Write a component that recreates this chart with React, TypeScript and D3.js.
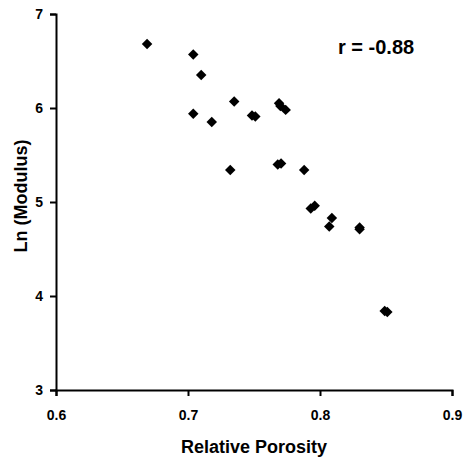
import React, { useEffect, useRef } from "react";
import * as d3 from "d3";

const porosity = [0.669, 0.704, 0.71, 0.704, 0.718, 0.735, 0.7485, 0.751, 0.769, 0.77, 0.774, 0.732, 0.768, 0.7705, 0.788, 0.793, 0.796, 0.809, 0.807, 0.83, 0.83, 0.849, 0.851];
const lnModulus = [6.68, 6.57, 6.35, 5.94, 5.85, 6.07, 5.92, 5.91, 6.05, 6.02, 5.98, 5.34, 5.4, 5.41, 5.34, 4.93, 4.96, 4.83, 4.74, 4.73, 4.71, 3.84, 3.83];
const xTicks = [0.6, 0.7, 0.8, 0.9];
const yTicks = [3, 4, 5, 6, 7];
const xTitle = "Relative Porosity";
const yTitle = "Ln (Modulus)";
const note = "r = -0.88";

const W = 463, H = 459;
const FONT = "'Liberation Sans', Arial, sans-serif";

export default function App() {
  const ref = useRef<SVGSVGElement>(null);
  useEffect(() => {
    const svg = d3.select(ref.current);
    svg.selectAll("*").remove();
    const x = d3.scaleLinear().domain([0.6, 0.9]).range([56, 452]);
    const y = d3.scaleLinear().domain([3, 7]).range([390, 14]);

    const gx = svg.append("g").attr("transform", `translate(0,${y(3)})`)
      .call(d3.axisBottom(x).tickValues(xTicks).tickFormat(d3.format(".1f")).tickSizeOuter(0).tickSize(6).tickPadding(14));
    const gy = svg.append("g").attr("transform", `translate(${x(0.6)},0)`)
      .call(d3.axisLeft(y).tickValues(yTicks).tickFormat(d3.format("d")).tickSizeOuter(0).tickSize(6).tickPadding(7));
    [gx, gy].forEach((g) => {
      g.select(".domain").attr("stroke", "#000").attr("stroke-width", 2);
      g.selectAll(".tick line").attr("stroke", "#000").attr("stroke-width", 2);
      g.selectAll(".tick text").attr("fill", "#000").attr("font-family", FONT).attr("font-weight", "bold").attr("font-size", 14);
    });

    const sym = d3.symbol().type(d3.symbolDiamond2).size(70);
    svg.append("g").selectAll("path").data(porosity).join("path")
      .attr("d", sym as any)
      .attr("transform", (d, i) => `translate(${x(d)},${y(lnModulus[i])})`)
      .attr("fill", "#000");

    svg.append("text").attr("x", 254).attr("y", 453).attr("text-anchor", "middle")
      .attr("font-family", FONT).attr("font-weight", "bold").attr("font-size", 18).text(xTitle);
    svg.append("text").attr("transform", `translate(27,196) rotate(-90)`).attr("text-anchor", "middle")
      .attr("font-family", FONT).attr("font-weight", "bold").attr("font-size", 18).text(yTitle);
    svg.append("text").attr("x", 338).attr("y", 54)
      .attr("font-family", FONT).attr("font-weight", "bold").attr("font-size", 20).text(note);
  }, []);
  return <svg ref={ref} width={W} height={H} style={{ position: "absolute", left: 0, top: 0, background: "#fff" }} />;
}
